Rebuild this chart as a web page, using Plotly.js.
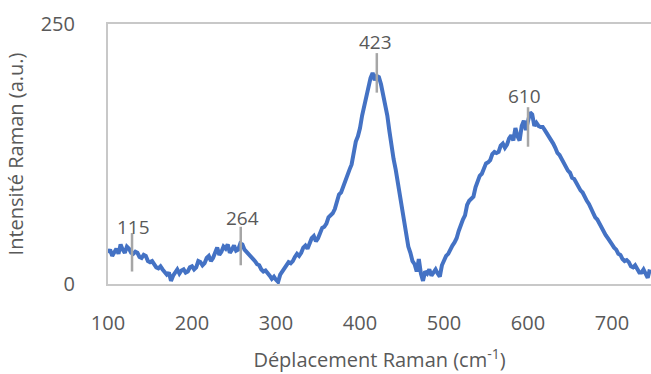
<!DOCTYPE html>
<html>
<head>
<meta charset="utf-8">
<script src="https://cdn.plot.ly/plotly-3.0.1.min.js"></script>
<style>html,body{margin:0;padding:0;background:#fff;}#chart{width:651px;height:374px;}</style>
</head>
<body>
<div id="chart"></div>
<script>
// Raman spectrum
var wavenumber = [
  100,102.5,105,107.5,110,112.5,115,117.5,120,122.5,
  125,127.5,130,132.5,135,137.5,140,142.5,145,147.5,
  150,152.5,155,157.5,160,162.5,165,167.5,170,172.5,
  175,177.5,180,182.5,185,187.5,190,192.5,195,197.5,
  200,202.5,205,207.5,210,212.5,215,217.5,220,222.5,
  225,227.5,230,232.5,235,237.5,240,242.5,245,247.5,
  250,252.5,255,257.5,260,262.5,265,267.5,270,272.5,
  275,277.5,280,282.5,285,287.5,290,292.5,295,297.5,
  300,302.5,305,307.5,310,312.5,315,317.5,320,322.5,
  325,327.5,330,332.5,335,337.5,340,342.5,345,347.5,
  350,352.5,355,357.5,360,362.5,365,367.5,370,372.5,
  375,377.5,380,382.5,385,387.5,390,392.5,395,397.5,
  400,402.5,405,407.5,410,412.5,415,417.5,420,422.5,
  425,427.5,430,432.5,435,437.5,440,442.5,445,447.5,
  450,452.5,455,457.5,460,462.5,465,467.5,470,472.5,
  475,477.5,480,482.5,485,487.5,490,492.5,495,497.5,
  500,502.5,505,507.5,510,512.5,515,517.5,520,522.5,
  525,527.5,530,532.5,535,537.5,540,542.5,545,547.5,
  550,552.5,555,557.5,560,562.5,565,567.5,570,572.5,
  575,577.5,580,582.5,585,587.5,590,592.5,595,597.5,
  600,602.5,605,607.5,610,612.5,615,617.5,620,622.5,
  625,627.5,630,632.5,635,637.5,640,642.5,645,647.5,
  650,652.5,655,657.5,660,662.5,665,667.5,670,672.5,
  675,677.5,680,682.5,685,687.5,690,692.5,695,697.5,
  700,702.5,705,707.5,710,712.5,715,717.5,720,722.5,
  725,727.5,730,732.5,735,737.5,740,742.5,745];
var intensity = [
  30,33,27,31,34,29,38,33,30,36,
  34,30,29,31,30,26,25,28,27,22,
  21,22,18,16,15,17,14,12,9,11,
  3,8,11,14,10,13,14,11,12,16,
  17,14,16,22,21,18,20,25,27,22,
  25,30,35,28,31,36,34,38,30,33,
  37,32,33,39,38,33,31,29,27,24,
  22,19,18,14,12,13,11,8,5,7,
  4,2,9,12,14,18,21,20,22,26,
  29,27,30,35,37,34,39,44,46,41,
  44,50,54,55,58,64,66,68,72,79,
  86,88,94,101,107,110,115,126,137,142,
  150,162,172,178,190,198,203,196,200,199,
  192,182,168,162,147,132,120,110,97,85,
  73,60,47,36,30,22,19,12,24,10,
  3,12,10,14,8,12,14,10,7,18,
  23,27,29,34,37,40,44,51,58,62,
  66,76,80,82,84,93,98,104,106,112,
  116,117,119,125,127,126,127,133,135,131,
  134,140,143,138,150,142,138,152,157,148,
  155,165,163,152,155,152,151,151,148,145,
  142,138,135,131,126,124,120,115,113,109,
  107,102,101,97,95,90,88,83,80,77,
  73,67,64,62,58,53,50,47,44,40,
  38,35,33,29,28,24,22,23,21,17,
  16,18,15,11,11,14,10,6,14];

var peakLabels = ['115','264','423','610'];
var peakLabelX = [130,260,418,596];
var peakLabelY = [55,63,233,181];
var peakLineX = [128.6,258,420,600];
var peakLineTop = [49,55,222,170];
var peakLineBottom = [12,18,184,132];

var xTicks = [100,200,300,400,500,600,700];
var yTicks = [0,250];

var fontFam = '"Open Sans", "Noto Sans", sans-serif';
var grey = '#595959';

var shapes = peakLineX.map(function(x, i){
  return {type:'line', xref:'x', yref:'y', x0:x, x1:x, y0:peakLineBottom[i], y1:peakLineTop[i],
          line:{color:'#A6A6A6', width:2.5}, layer:'above'};
});
var annotations = peakLabels.map(function(t, i){
  return {x:peakLabelX[i], y:peakLabelY[i], xref:'x', yref:'y', text:t, showarrow:false,
          xanchor:'center', yanchor:'middle', font:{family:fontFam, size:19, color:grey}};
});

var trace = {x:wavenumber, y:intensity, type:'scatter', mode:'lines',
  line:{color:'#4472C4', width:4}, hoverinfo:'skip'};

var layout = {
  width:651, height:374,
  margin:{l:108, r:0, t:24, b:90, pad:0},
  paper_bgcolor:'#fff', plot_bgcolor:'#fff',
  showlegend:false,
  font:{family:fontFam, size:20, color:grey},
  xaxis:{range:[100,746.4], tickvals:xTicks, ticktext:xTicks.map(String), showgrid:false, zeroline:false,
    showline:true, mirror:true, linecolor:'#C8C8C8', linewidth:2, ticks:'', ticklabelstandoff:20,
    tickfont:{family:fontFam, size:20, color:grey},
    title:{text:'Déplacement Raman (cm<sup>-1</sup>)', font:{family:fontFam, size:20, color:grey}, standoff:18}},
  yaxis:{range:[0,250], tickvals:yTicks, ticktext:yTicks.map(String), showgrid:false, zeroline:false,
    showline:true, linecolor:'#C8C8C8', linewidth:2, ticks:'', ticklabelstandoff:27,
    tickfont:{family:fontFam, size:20, color:grey},
    title:{text:'Intensité Raman (a.u.)', font:{family:fontFam, size:20, color:grey}, standoff:12}},
  shapes:shapes,
  annotations:annotations
};

Plotly.newPlot('chart', [trace], layout, {displayModeBar:false, staticPlot:true});
</script>
</body>
</html>
